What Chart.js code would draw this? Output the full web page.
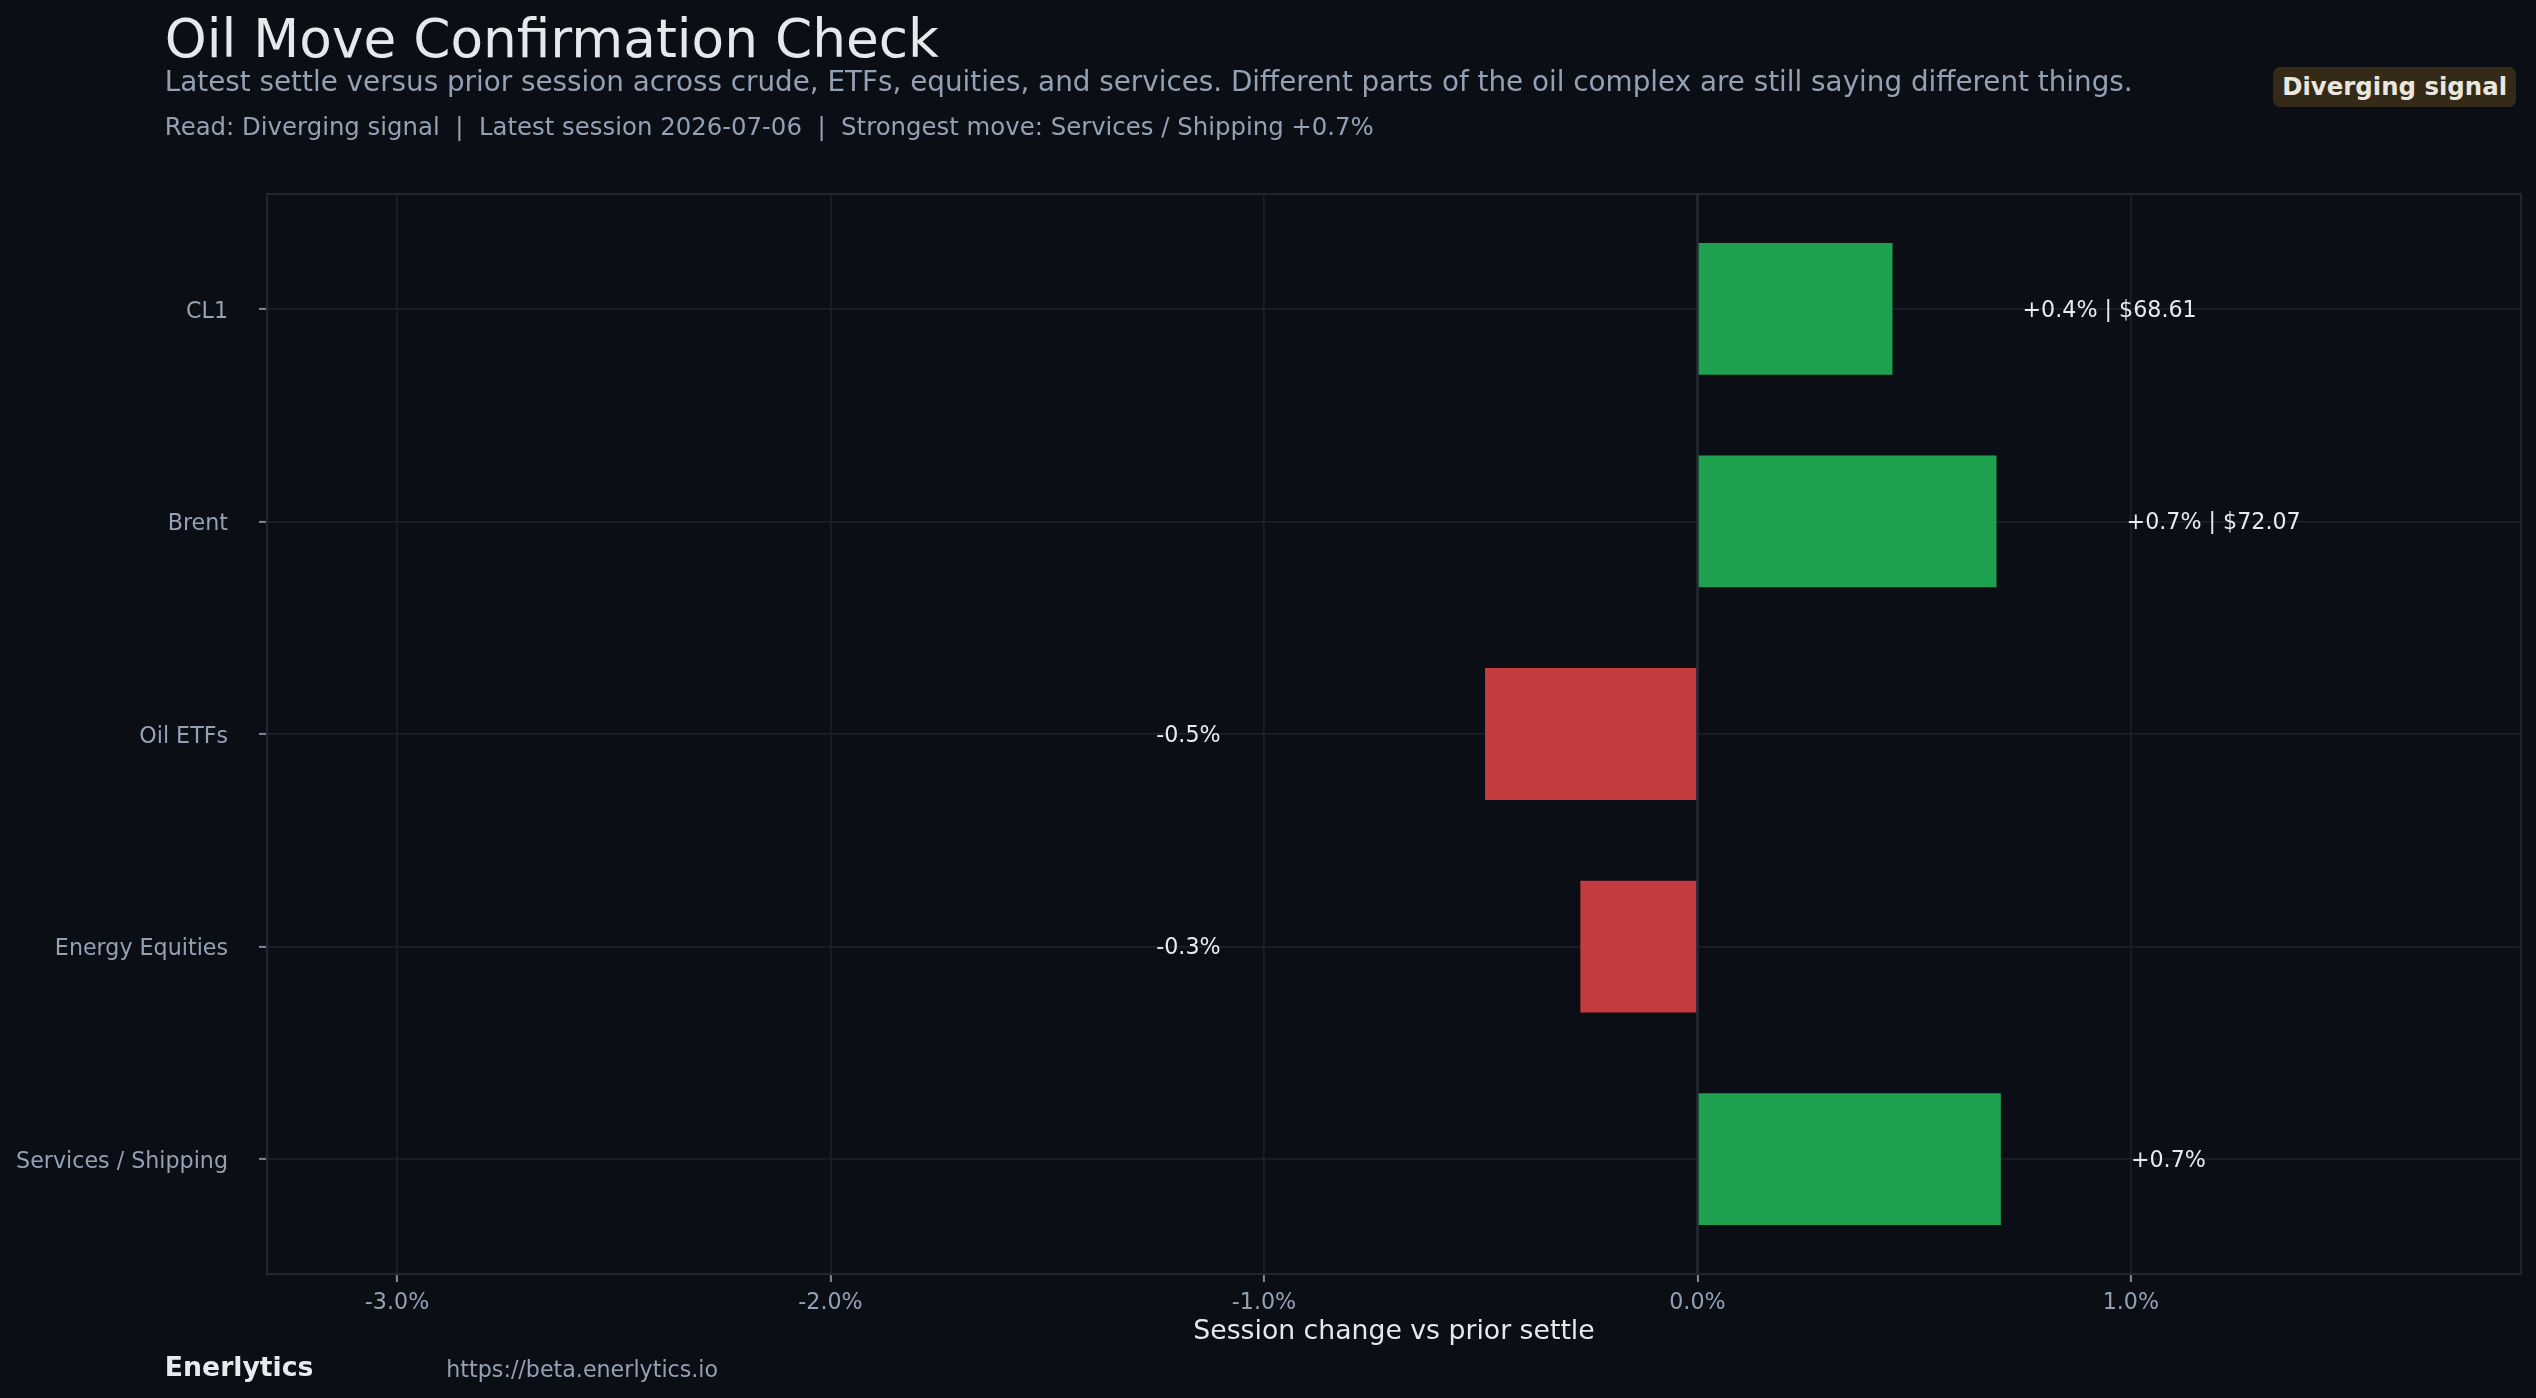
<!DOCTYPE html>
<html>
<head>
<meta charset="utf-8">
<title>Oil Move Confirmation Check</title>
<script src="https://cdn.jsdelivr.net/npm/chart.js@4.4.1/dist/chart.umd.min.js"></script>
<style>
  html, body { margin: 0; padding: 0; background: #0b0e14; }
  #wrap { position: relative; width: 2536px; height: 1398px; overflow: hidden; font-family: 'DejaVu Sans', sans-serif; }
  #chart { position: absolute; left: 0; top: 0; }
  .txt { position: absolute; white-space: pre; line-height: 1; }
  .title { left: 164.8px; top: 12.9px; font-size: 53.3px; color: #e6e8ec; }
  .sub { left: 164.8px; top: 67.5px; font-size: 27.8px; color: #94a0b4; }
  .read { left: 164.8px; top: 115.4px; font-size: 24.4px; color: #94a0b4; }
  .badge { right: 20px; top: 67px; height: 40px; line-height: 40px; padding: 0 9px; font-size: 24.4px; font-weight: bold;
           background: #352a17; border-radius: 7px; color: #ebe7df; }
  .brand { left: 164.8px; top: 1354.4px; font-size: 26.7px; font-weight: bold; color: #e8eaee; }
  .url { left: 446.3px; top: 1358.2px; font-size: 22.2px; color: #94a0b4; }
</style>
</head>
<body>
<div id="wrap">
  <canvas id="chart" width="2536" height="1398"></canvas>
  <div class="txt title">Oil Move Confirmation Check</div>
  <div class="txt sub">Latest settle versus prior session across crude, ETFs, equities, and services. Different parts of the oil complex are still saying different things.</div>
  <div class="txt read">Read: Diverging signal  |  Latest session 2026-07-06  |  Strongest move: Services / Shipping +0.7%</div>
  <div class="txt badge">Diverging signal</div>
  <div class="txt brand">Enerlytics</div>
  <div class="txt url">https://beta.enerlytics.io</div>
</div>
<script>
/* datos del grafico */
const categories = ['CL1', 'Brent', 'Oil ETFs', 'Energy Equities', 'Services / Shipping'];
const changes = [0.45, 0.69, -0.49, -0.27, 0.70];
const changeLabels = ['+0.4% | $68.61', '+0.7% | $72.07', '-0.5%', '-0.3%', '+0.7%'];
const xTicks = [-3, -2, -1, 0, 1];
const xLimits = [-3.3, 1.9];
const yLimits = [-0.54, 4.54];

const GREEN = '#1ea14f';
const RED = '#c53c3e';
const GRID = '#1a1f28';
const FRAME = '#1f2631';
const MUTED = '#94a0b4';
const LIGHT = '#e6e8ec';
const FONT = "'DejaVu Sans', sans-serif";

// marco, linea de cero y etiquetas de valor
const overlay = {
    id: 'overlay',
    beforeDatasetsDraw(chart) {
        const { ctx, chartArea: a } = chart;
        ctx.save();
        ctx.strokeStyle = FRAME;
        ctx.lineWidth = 2.2;
        ctx.strokeRect(a.left, a.top, a.right - a.left, a.bottom - a.top);
        ctx.restore();
    },
    afterDatasetsDraw(chart, args, opts) {
        const { ctx, chartArea: a, scales: { x, y } } = chart;
        ctx.save();
        const x0 = x.getPixelForValue(0);
        ctx.strokeStyle = '#262d39';
        ctx.lineWidth = 2.2;
        ctx.beginPath();
        ctx.moveTo(x0, a.top);
        ctx.lineTo(x0, a.bottom);
        ctx.stroke();

        ctx.font = '22.2px ' + FONT;
        ctx.fillStyle = '#e8eaee';
        ctx.textBaseline = 'middle';
        changes.forEach((v, i) => {
            const py = y.getPixelForValue(i) + 2;
            if (v >= 0) {
                ctx.textAlign = 'left';
                ctx.fillText(changeLabels[i], x.getPixelForValue(v + opts.gap), py);
            } else {
                ctx.textAlign = 'right';
                ctx.fillText(changeLabels[i], x.getPixelForValue(opts.negAnchor), py);
            }
        });
        ctx.restore();
    }
};

new Chart(document.getElementById('chart'), {
    type: 'bar',
    data: {
        labels: categories,
        datasets: [{
            data: changes.map((v, i) => ({ x: v, y: i })),
            backgroundColor: changes.map(v => v >= 0 ? GREEN : RED),
            borderWidth: 0,
            barPercentage: 0.62,
            categoryPercentage: 1
        }]
    },
    options: {
        indexAxis: 'y',
        responsive: false,
        animation: false,
        events: [],
        devicePixelRatio: 1,
        layout: { padding: { left: 0, top: 194, right: 15, bottom: 0 } },
        plugins: {
            legend: { display: false },
            tooltip: { enabled: false },
            overlay: { gap: 0.3, negAnchor: -1.1 }
        },
        scales: {
            x: {
                type: 'linear',
                min: xLimits[0],
                max: xLimits[1],
                afterBuildTicks: s => { s.ticks = xTicks.map(v => ({ value: v })); },
                afterFit: s => { s.height = 124; },
                grid: { color: GRID, lineWidth: 1.8, tickLength: 8, tickColor: '#7f8ba0', tickWidth: 2 },
                border: { display: false },
                ticks: {
                    autoSkip: false,
                    maxRotation: 0,
                    padding: 7.5,
                    color: MUTED,
                    font: { family: FONT, size: 22.2 },
                    callback: v => v.toFixed(1) + '%'
                },
                title: {
                    display: true,
                    text: 'Session change vs prior settle',
                    color: LIGHT,
                    font: { family: FONT, size: 26.7 },
                    padding: { top: 0, bottom: 50 }
                }
            },
            y: {
                type: 'linear',
                reverse: true,
                offset: false,
                min: yLimits[0],
                max: yLimits[1],
                afterBuildTicks: s => { s.ticks = categories.map((c, i) => ({ value: i })); },
                afterFit: s => { s.width = 267; },
                grid: { offset: false, color: GRID, lineWidth: 1.8, tickLength: 8, tickColor: '#7f8ba0', tickWidth: 2 },
                border: { display: false },
                ticks: {
                    autoSkip: false,
                    padding: 31,
                    labelOffset: 3,
                    color: MUTED,
                    font: { family: FONT, size: 22.2 },
                    callback: v => categories[v]
                }
            }
        }
    },
    plugins: [overlay]
});
</script>
</body>
</html>
